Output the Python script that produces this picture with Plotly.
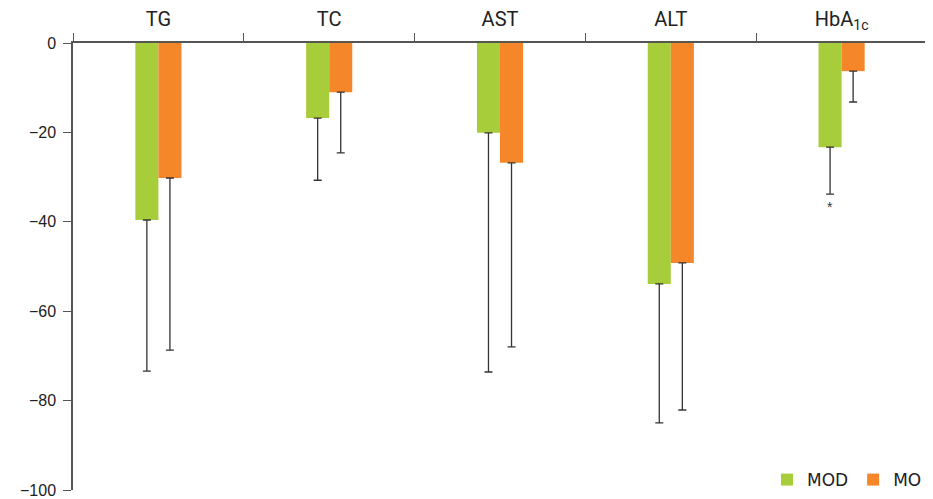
import plotly.graph_objects as go

categories = ["TG", "TC", "AST", "ALT", "HbA<sub>1c</sub>"]
mod_values = [-39.6, -16.8, -20.1, -53.9, -23.3]
mod_err = [33.8, 13.9, 53.5, 31.1, 10.5]
mo_values = [-30.2, -11.0, -26.8, -49.2, -6.3]
mo_err = [38.5, 13.6, 41.2, 32.9, 6.9]
y_ticks = [0, -20, -40, -60, -80, -100]
y_tick_text = ["0", "−20", "−40", "−60", "−80", "−100"]

green = "#A8CD3A"
orange = "#F5862A"
err_color = "#333333"

fig = go.Figure()
fig.add_trace(go.Bar(
    name="MOD", x=categories, y=mod_values, marker_color=green, marker_line_width=0,
    error_y=dict(type="data", symmetric=False, array=[0]*5, arrayminus=mod_err,
                 color=err_color, thickness=1.3, width=4),
))
fig.add_trace(go.Bar(
    name="MO", x=categories, y=mo_values, marker_color=orange, marker_line_width=0,
    error_y=dict(type="data", symmetric=False, array=[0]*5, arrayminus=mo_err,
                 color=err_color, thickness=1.3, width=4),
))

fig.add_annotation(x=4, y=-36.7, xref="x", yref="y", text="*", showarrow=False,
                   xshift=-11.5, font=dict(size=14, color="#333333", family="Liberation Sans"))

fig.update_layout(
    width=925, height=491,
    margin=dict(l=65, r=6, t=35, b=9, autoexpand=False),
    plot_bgcolor="white", paper_bgcolor="white",
    barmode="group", bargap=0.73, bargroupgap=0,
    showlegend=True,
    legend=dict(orientation="h", x=1.0, xanchor="right", y=-0.018, yanchor="bottom",
                font=dict(family="DejaVu Sans", size=17, color="#222222"),
                bgcolor="rgba(0,0,0,0)", itemwidth=30, tracegroupgap=0),
    xaxis=dict(
        side="top", type="category", tickson="boundaries", automargin=False,
        showline=True, linecolor="#555555", linewidth=1.5,
        ticks="outside", ticklen=8, tickcolor="#555555", tickwidth=1.2,
        tickfont=dict(family="Roboto", size=20, color="#222222"),
        ticklabelstandoff=7,
        showgrid=False, zeroline=False, range=[-0.5, 4.5],
    ),
    yaxis=dict(
        range=[-100, 0], tickvals=y_ticks, ticktext=y_tick_text, automargin=False,
        showline=True, linecolor="#555555", linewidth=1.5,
        ticks="outside", ticklen=8, tickcolor="#555555", tickwidth=1.2,
        tickfont=dict(family="Liberation Sans", size=16, color="#222222"),
        showgrid=False, zeroline=False, ticklabelstandoff=4,
    ),
)

fig.write_html("out.html")
